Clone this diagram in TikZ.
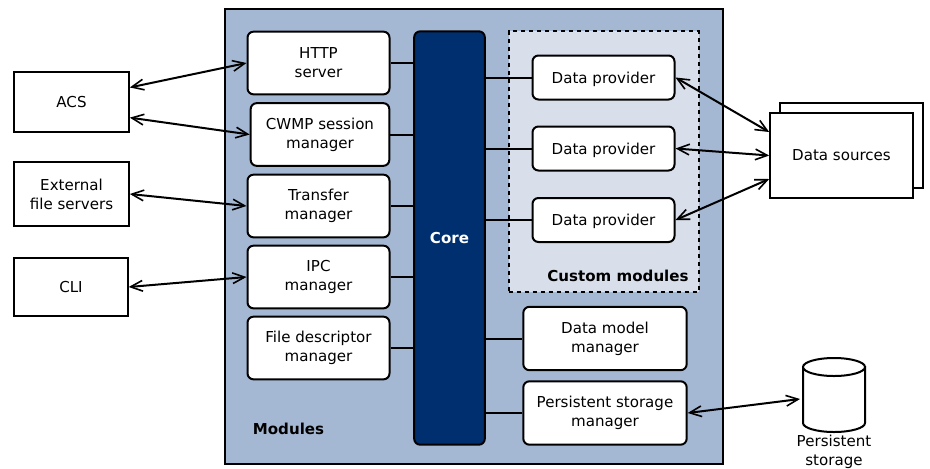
\documentclass[tikz,border=0pt]{standalone}
\usepackage{fontspec}
\setmainfont{DejaVu Sans}
\usetikzlibrary{arrows.meta}
\definecolor{modblue}{HTML}{A5B8D3}
\definecolor{customblue}{HTML}{D8DEEA}
\definecolor{coreblue}{HTML}{002F70}
\begin{document}
\begin{tikzpicture}[x=.75pt,y=-.75pt,line width=1.5pt,font=\fontsize{11.3}{14.4}\selectfont,
		>={Straight Barb[length=9pt,width=8pt,line width=1.2pt]},
		link/.style={<->,line width=1.5pt},
		modbox/.style={draw,fill=white,rounded corners=4.5pt,align=center,inner sep=0pt,minimum width=106.5pt,minimum height=47pt},
		provbox/.style={modbox,minimum height=33pt,text depth=0pt},
		storebox/.style={modbox,minimum width=122.5pt,minimum height=47.5pt},
		extbox/.style={draw,fill=white,align=center,inner sep=0pt,minimum width=86pt,minimum height=45.5pt}]
		\useasboundingbox (0,0) rectangle (930,468);

		% containers
		\node (modules) [draw,fill=modblue,inner sep=0pt,minimum width=373.5pt,minimum height=341.5pt] at (474,236.5) {};
		\node (custom) [draw,dashed,fill=customblue,inner sep=0pt,minimum width=142.5pt,minimum height=195.5pt] at (603.5,161.5) {};
		\node (modlabel) [font=\fontsize{11.3}{14.4}\selectfont\bfseries] at (288.5,429) {Modules};
		\node (customlabel) [font=\fontsize{11.3}{14.4}\selectfont\bfseries] at (618,276) {Custom modules};

		\node (core) [draw,fill=coreblue,text=white,rounded corners=4.5pt,inner sep=0pt,minimum width=53pt,minimum height=310pt,font=\fontsize{11.3}{14.4}\selectfont\bfseries] at (449.5,238) {Core};

		% left column
		\node (http) [modbox] at (318.5,63) {HTTP\\server};
		\node (cwmp) [modbox,minimum width=104pt] at (320,134.5) {CWMP session\\manager};
		\node (transfer) [modbox] at (318.5,206) {Transfer\\manager};
		\node (ipc) [modbox] at (318.5,277) {IPC\\manager};
		\node (filedesc) [modbox] at (318.5,348) {File descriptor\\manager};

		% right column
		\node (prov1) [provbox] at (603.5,77.5) {Data provider};
		\node (prov2) [provbox] at (603.5,148.5) {Data provider};
		\node (prov3) [provbox] at (603.5,220) {Data provider};
		\node (datamodel) [storebox] at (605,338.5) {Data model\\manager};
		\node (storage) [storebox] at (605,413) {Persistent storage\\manager};

		\foreach \m in {http,cwmp,transfer,ipc,filedesc}
		\draw (\m.east) -- (core.west |- \m.east);
		\foreach \m in {prov1,prov2,prov3,datamodel,storage}
		\draw (\m.west) -- (core.east |- \m.west);

		% outside
		\node (acs) [extbox] at (71.5,102) {ACS};
		\node (extfile) [extbox,minimum height=47.5pt] at (71.5,194) {External\\file servers};
		\node (cli) [extbox,minimum width=85pt,minimum height=43.5pt] at (71,287) {CLI};
		\node (srcback) [extbox,minimum width=107pt,minimum height=64pt] at (851.5,145.5) {};
		\node (sources) [extbox,minimum width=107pt,minimum height=64pt] at (841.5,155.5) {Data sources};

		% storage drum
		\draw [fill=white] (803,367) -- (803,423) arc (180:0:31 and 9) -- (865,367) -- cycle;
		\draw [fill=white] (834,367) ellipse (31 and 9);
		\coordinate (disk) at (800,399);
		\node (disklabel) [align=center] at (834,451.5) {Persistent\\storage};

		\draw [link] (acs.14) -- (http.west);
		\draw [link] (acs.-15) -- (cwmp.west);
		\draw [link] (extfile.east) -- (transfer.west);
		\draw [link] (cli.east) -- (ipc.west);
		\draw [link] (prov1.east) -- (sources.162);
		\draw [link] (prov2.east) -- (sources.west);
		\draw [link] (prov3.east) -- (sources.198);
		\draw [link] (storage.east) -- (disk);
\end{tikzpicture}
\end{document}
